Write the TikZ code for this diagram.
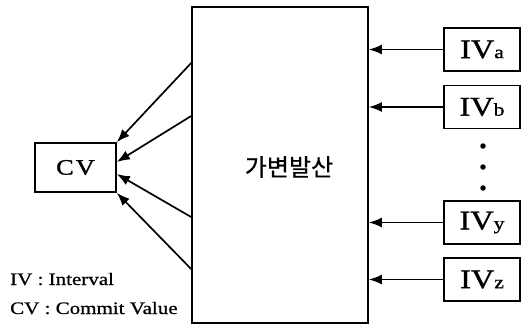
\documentclass[tikz,border=0pt]{standalone}
\usepackage{fontspec}
\setmainfont{Liberation Serif}
\newfontfamily\wserif[FakeStretch=1.2,FakeBold=1.2]{Liberation Serif}
\newfontfamily\lserif[FakeStretch=1.2,FakeBold=0.8]{Liberation Serif}
\newfontfamily\kr[FakeBold=0.6]{Noto Sans CJK KR}
\usetikzlibrary{arrows.meta}
\begin{document}
\begin{tikzpicture}[x=1pt,y=-1pt,
  box/.style={draw,line width=1.7pt,inner sep=0pt},
  ivbox/.style={box,minimum width=76pt,minimum height=43pt,font=\wserif\fontsize{27}{27}\selectfont},
  arr/.style={line width=1.7pt,-{Latex[length=13pt,width=10pt]}},
  legend/.style={anchor=base west,inner sep=0pt,font=\lserif\fontsize{17.5}{17.5}\selectfont},
  dot/.style={circle,fill,inner sep=0pt,minimum size=5.5pt}]
\useasboundingbox (0,0) rectangle (524,327);
% main box
\node[box,minimum width=176pt,minimum height=316pt] (main) at (280,165) {};
\node[inner sep=0pt,font=\kr\fontsize{24}{24}\selectfont] (mainlabel) at (289,167) {가변발산};
% CV box
\node[box,minimum width=81pt,minimum height=49pt,font=\wserif\fontsize{22}{22}\selectfont] (cv) at (75.5,167.5) {C\kern2pt V};
% IV boxes
\newcommand{\ivsub}[1]{IV{\fontsize{18}{18}\selectfont #1}}
\node[ivbox] (iva) at (482,49.5) {\ivsub{a}};
\node[ivbox] (ivb) at (482,107) {\ivsub{b}};
\node[ivbox] (ivy) at (482,222.5) {\ivsub{y}};
\node[ivbox] (ivz) at (482,279.5) {\ivsub{z}};
% dots
\node[dot] (d1) at (483,146) {};
\node[dot] (d2) at (483,167) {};
\node[dot] (d3) at (483,188) {};
% arrows into main
\draw[arr] (iva.west) -- (iva.west -| main.east);
\draw[arr] (ivb.west) -- (ivb.west -| main.east);
\draw[arr] (ivy.west) -- (ivy.west -| main.east);
\draw[arr] (ivz.west) -- (ivz.west -| main.east);
% arrows to CV
\draw[arr] (main.west |- 0,63) -- (cv.north east);
\draw[arr] (main.west |- 0,116) -- (cv.east |- 0,162);
\draw[arr] (main.west |- 0,217) -- (cv.east |- 0,174);
\draw[arr] (main.west |- 0,269) -- (cv.south east);
% legend
\node[legend] (leg1) at (10,285) {IV : Interval};
\node[legend] (leg2) at (10,314) {CV : Commit Value};
\end{tikzpicture}
\end{document}
